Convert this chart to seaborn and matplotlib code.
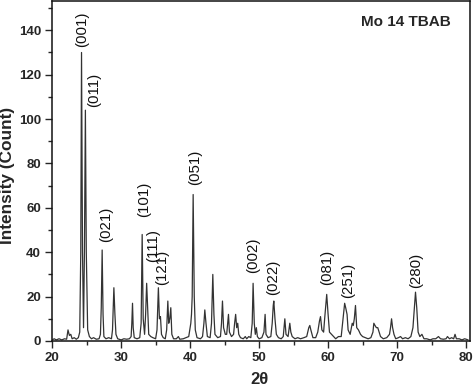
import matplotlib
matplotlib.use("Agg")
import matplotlib.pyplot as plt
import pandas as pd
import seaborn as sns
from matplotlib.ticker import MultipleLocator

# XRD trace: 2-theta vertices and intensity (count)
two_theta = [
    20.0, 20.3, 20.6, 21.0, 21.4, 21.8, 22.1, 22.3, 22.5, 22.7, 22.9, 23.2, 23.5, 23.8,
    24.0, 24.15, 24.26, 24.4, 24.55, 24.68, 24.82, 24.95, 25.15, 25.4, 25.7, 26.0, 26.4,
    26.8, 27.0, 27.12, 27.25, 27.38, 27.5, 27.8, 28.2, 28.6, 28.75, 28.85, 28.95, 29.1,
    29.25, 29.5, 30.0, 30.4, 30.8, 31.2, 31.45, 31.55, 31.65, 31.75, 31.9, 32.3, 32.7,
    32.9, 33.05, 33.2, 33.4, 33.55, 33.7, 33.85, 34.0, 34.3, 34.6, 35.0, 35.2, 35.4,
    35.55, 35.7, 35.85, 36.1, 36.4, 36.6, 36.77, 36.9, 37.05, 37.2, 37.35, 37.6, 38.0,
    38.3, 38.5, 39.0, 39.4, 39.8, 40.1, 40.2, 40.3, 40.44, 40.6, 40.75, 41.0, 41.5, 41.8,
    42.0, 42.13, 42.3, 42.5, 42.9, 43.1, 43.29, 43.45, 43.6, 44.0, 44.4, 44.55, 44.69,
    44.85, 45.1, 45.3, 45.45, 45.56, 45.7, 46.0, 46.3, 46.45, 46.6, 46.75, 46.9, 47.05,
    47.3, 47.7, 48.0, 48.2, 48.5, 48.8, 49.0, 49.13, 49.3, 49.45, 49.6, 49.75, 50.0,
    50.4, 50.7, 50.87, 51.0, 51.3, 51.7, 51.9, 52.05, 52.13, 52.3, 52.5, 52.8, 53.2,
    53.5, 53.73, 53.9, 54.2, 54.45, 54.6, 54.8, 55.2, 55.6, 56.0, 56.5, 56.9, 57.2,
    57.35, 57.5, 57.8, 58.2, 58.5, 58.75, 58.9, 59.1, 59.35, 59.5, 59.8, 60.0, 60.2,
    60.5, 60.8, 61.1, 61.5, 61.9, 62.1, 62.4, 62.55, 62.75, 62.9, 63.2, 63.5, 63.65,
    63.8, 63.97, 64.15, 64.4, 64.7, 65.0, 65.4, 65.8, 66.2, 66.5, 66.63, 66.8, 67.0,
    67.2, 67.4, 67.6, 68.0, 68.5, 68.9, 69.05, 69.2, 69.35, 69.55, 69.8, 70.2, 70.5,
    70.8, 71.2, 71.6, 72.0, 72.3, 72.5, 72.67, 72.85, 73.05, 73.3, 73.6, 73.9, 74.3,
    74.8, 75.2, 75.6, 76.0, 76.3, 76.7, 77.1, 77.3, 77.6, 77.9, 78.2, 78.4, 78.6, 79.0,
    79.4, 79.8, 80.3,
]
intensity = [
    0.5, 1, 0.5, 1, 0.5, 1, 0.8, 5, 2.5, 3, 1, 1.5, 0.8, 1.5,
    4, 40, 130, 40, 6, 40, 104, 40, 5, 2, 1, 1.5, 0.8,
    1, 3, 15, 41, 12, 2, 1, 1.5, 1, 5, 15, 24, 12,
    3, 1, 0.5, 1, 0.8, 1, 2, 8, 17, 6, 1.5, 1, 1.5,
    8, 48, 10, 3, 12, 26, 15, 3, 2, 1.5, 1, 5, 24,
    10, 11, 3, 1.5, 1, 5, 18, 8, 10, 15, 3, 1, 1,
    2, 0.8, 1, 1.5, 2, 8, 12, 20, 66, 20, 5, 1.5, 1, 2,
    8, 14, 8, 2, 1.5, 8, 30, 12, 3, 1.5, 2, 8, 18,
    6, 3, 3, 8, 12, 4, 2, 3, 8, 12, 6, 8, 3,
    1.5, 1, 2, 1, 2, 1.5, 8, 26, 8, 3, 6, 2, 1,
    1.5, 4, 12, 3, 1.5, 2, 8, 16, 18, 10, 3, 1.5, 1,
    2, 10, 3, 2, 8, 4, 2, 1, 1.5, 1, 1.5, 2, 6,
    7, 5, 1.5, 1.5, 4, 9, 11, 5, 4, 10, 21, 12, 4,
    3, 2, 1, 2, 2, 8, 17, 15, 12, 5, 3, 8, 7,
    10, 16, 6, 5, 3, 2, 1.5, 1, 1.5, 4, 8, 7, 6,
    6, 4, 2, 1, 1.5, 3, 6, 10, 6, 3, 1, 1.5, 2,
    1, 1.5, 1, 2, 6, 15, 22, 15, 4, 2, 3, 1, 1,
    0.5, 1, 1, 2, 1, 0.8, 1, 2, 1, 1.5, 1, 3, 1, 1,
    0.5, 1, 0.5,
]

# Miller index labels: x position, bottom of label
hkl_labels = ["(001)", "(011)", "(021)", "(101)", "(111)", "(121)", "(051)",
              "(002)", "(022)", "(081)", "(251)", "(280)"]
hkl_x = [24.4, 26.1, 27.8, 33.3, 34.6, 36.0, 40.7, 49.1, 52.1, 59.9, 62.9, 72.8]
hkl_y = [132.6, 105.5, 44.7, 56.0, 35.7, 25.2, 70.3, 30.5, 20.7, 25.2, 19.2, 23.7]

df = pd.DataFrame({"two_theta": two_theta, "intensity": intensity})

sns.set_style("ticks")
plt.rcParams["font.family"] = ["Liberation Sans", "DejaVu Sans"]

fig = plt.figure(figsize=(4.74, 3.89), dpi=100)
ax = fig.add_axes([0.110, 0.1234, 0.882, 0.8746])

sns.lineplot(data=df, x="two_theta", y="intensity", ax=ax, color="#333333",
             linewidth=0.9, sort=False)

for lab, x, y in zip(hkl_labels, hkl_x, hkl_y):
    ax.text(x, y, lab, rotation=90, ha="center", va="bottom", fontsize=10.8,
            color="#111111")

ax.text(0.847, 0.938, "Mo 14 TBAB", transform=ax.transAxes, ha="center",
        va="center", fontsize=11, fontweight="bold")

ax.set_xlim(20, 80.6)
ax.set_ylim(0, 153.3)
ax.xaxis.set_major_locator(MultipleLocator(10))
ax.xaxis.set_minor_locator(MultipleLocator(5))
ax.yaxis.set_major_locator(MultipleLocator(20))
ax.yaxis.set_minor_locator(MultipleLocator(10))
ax.tick_params(which="major", direction="out", length=5, width=1, labelsize=9.5, pad=3)
ax.tick_params(which="minor", direction="out", length=3, width=1)
for t in ax.get_xticklabels() + ax.get_yticklabels():
    t.set_fontweight("bold")

for s in ax.spines.values():
    s.set_visible(True)
    s.set_linewidth(1.1)
    s.set_color("#111111")

ax.set_xlabel("2θ", fontsize=12, fontweight="bold")
ax.set_ylabel("Intensity (Count)", fontsize=12.4, fontweight="bold")
ax.xaxis.set_label_coords(0.495, -0.092)
ax.yaxis.set_label_coords(-0.089, 0.487)

fig.savefig("out.png", dpi=100)
